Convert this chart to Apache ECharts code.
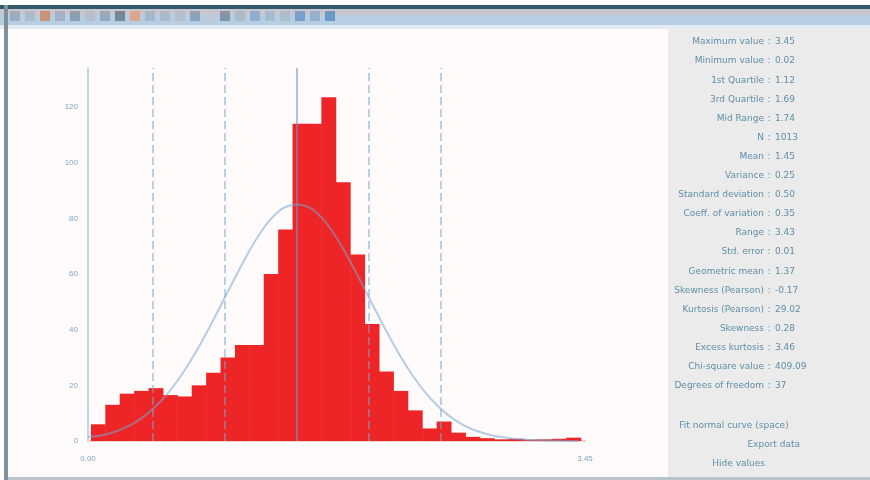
<!DOCTYPE html>
<html>
<head>
<meta charset="utf-8">
<script src="https://cdn.jsdelivr.net/npm/echarts@6/dist/echarts.min.js"></script>
<style>
  html, body { margin: 0; padding: 0; background: #ffffff; }
  #chart { width: 870px; height: 480px; }
</style>
</head>
<body>
<div id="chart"></div>
<script>
// histogram counts, one per bin (bin width 0.1, first bin starts at 0.02)
const binStart = 0.02;
const binWidth = 0.1;
const counts = [6, 13, 17, 18, 19, 16.5, 16, 20, 24.5, 30, 34.5, 34.5, 60, 76, 114, 114, 123.5,
  93, 67, 42, 25, 18, 11, 4.5, 7, 3, 1.5, 1, 0.6, 0.8, 0.5, 0.6, 0.8, 1.2];

// fitted normal curve
const curveX = [0.0, 0.1, 0.2, 0.3, 0.4, 0.5, 0.6, 0.7, 0.8, 0.9, 1.0, 1.1, 1.2, 1.3, 1.4, 1.45, 1.5,
  1.6, 1.7, 1.8, 1.9, 2.0, 2.1, 2.2, 2.3, 2.4, 2.5, 2.6, 2.7, 2.8, 2.9, 3.0, 3.1, 3.2, 3.3, 3.4];
const curveY = [1.5, 2.1, 3.6, 5.9, 9.3, 14, 20.2, 27.8, 36.7, 46.5, 56.6, 66.4, 75, 81.4, 84.6, 85, 84.6,
  81.4, 75, 66.4, 56.6, 46.5, 36.7, 27.8, 20.2, 14, 9.3, 5.9, 3.6, 2.1, 1.2, 0.6, 0.3, 0.2, 0.1, 0];

// mean and +/- sigma markers
const meanValue = 1.45;
const sigmaLines = [0.45, 0.95, 1.95, 2.45];

const xMin = 0;
const xMax = 3.45;
const yMax = 134;

// statistics panel
const statLabels = ['Maximum value', 'Minimum value', '1st Quartile', '3rd Quartile', 'Mid Range',
  'N', 'Mean', 'Variance', 'Standard deviation', 'Coeff. of variation', 'Range', 'Std. error',
  'Geometric mean', 'Skewness (Pearson)', 'Kurtosis (Pearson)', 'Skewness', 'Excess kurtosis',
  'Chi-square value', 'Degrees of freedom'];
const statValues = ['3.45', '0.02', '1.12', '1.69', '1.74', '1013', '1.45', '0.25', '0.50', '0.35',
  '3.43', '0.01', '1.37', '-0.17', '29.02', '0.28', '3.46', '409.09', '37'];
const panelLinks = ['Fit normal curve (space)', 'Export data', 'Hide values'];

const chart = echarts.init(document.getElementById('chart'));

const binData = counts.map((c, i) => [binStart + i * binWidth, binStart + (i + 1) * binWidth, c]);

const textColor = '#5f8ea8';
const graphics = [];

// window chrome
graphics.push({ type: 'rect', shape: { x: 0, y: 5, width: 870, height: 4 }, style: { fill: '#2f5b6b' }, z: 10 });
graphics.push({ type: 'rect', shape: { x: 0, y: 9, width: 870, height: 6 }, style: { fill: '#c9c6d0' }, z: 10 });
graphics.push({ type: 'rect', shape: { x: 0, y: 15, width: 870, height: 10 }, style: { fill: '#b7cde1' }, z: 10 });
graphics.push({ type: 'rect', shape: { x: 0, y: 25, width: 870, height: 4 }, style: { fill: '#e3ebf1' }, z: 10 });
graphics.push({ type: 'rect', shape: { x: 4, y: 5, width: 4, height: 475 }, style: { fill: '#7f8f9b' }, z: 10 });
graphics.push({ type: 'rect', shape: { x: 668, y: 29, width: 202, height: 451 }, style: { fill: '#ebebeb' }, z: 0 });
graphics.push({ type: 'rect', shape: { x: 8, y: 29, width: 660, height: 451 }, style: { fill: '#fefbfa' }, z: 0 });
graphics.push({ type: 'rect', shape: { x: 8, y: 477, width: 862, height: 3 }, style: { fill: '#b9c3cc' }, z: 10 });

// toolbar icons
const iconColors = ['#8fa3b8', '#a9b3c4', '#c9825a', '#9aa8ba', '#7c8fa3', '#b4b8c6', '#8c9db0', '#5f6f80',
  '#e39a72', '#9fb2c6', '#a6b3c2', '#b0bac8', '#7e96ad', '#c2c6d0', '#6d8299', '#a8b5c4', '#7fa6cc',
  '#9db6cc', '#aab8c6', '#5f93c6', '#87a7c8', '#4f88c0'];
iconColors.forEach((c, i) => {
  graphics.push({ type: 'rect', shape: { x: 10 + i * 15, y: 11, width: 10, height: 10 }, style: { fill: c, opacity: 0.75 }, z: 11 });
});

// stats rows
statLabels.forEach((lab, i) => {
  const y = 42 + i * 19.1;
  graphics.push({ type: 'text', x: 764, y: y, style: { text: lab, fill: textColor, font: '9px "DejaVu Sans"', textAlign: 'right', textVerticalAlign: 'middle' }, z: 12 });
  graphics.push({ type: 'text', x: 769, y: y, style: { text: ':', fill: textColor, font: '9px "DejaVu Sans"', textAlign: 'center', textVerticalAlign: 'middle' }, z: 12 });
  graphics.push({ type: 'text', x: 775, y: y, style: { text: statValues[i], fill: textColor, font: '9px "DejaVu Sans"', textAlign: 'left', textVerticalAlign: 'middle' }, z: 12 });
});
const linkX = [734, 800, 765];
const linkY = [426, 445, 464];
panelLinks.forEach((t, i) => {
  graphics.push({ type: 'text', x: linkX[i], y: linkY[i], style: { text: t, fill: textColor, font: '9px "DejaVu Sans"', textAlign: i === 0 ? 'center' : 'right', textVerticalAlign: 'middle' }, z: 12 });
});

const option = {
  animation: false,
  backgroundColor: '#ffffff',
  graphic: graphics,
  grid: { left: 88, right: 285, top: 68, bottom: 39 },
  xAxis: {
    type: 'value',
    min: xMin,
    max: xMax,
    interval: xMax - xMin,
    axisLine: { show: true, lineStyle: { color: '#ecd4cc', width: 2 } },
    axisTick: { show: false },
    splitLine: { show: false },
    axisLabel: {
      color: '#7fa6c6',
      fontSize: 8,
      margin: 14,
      formatter: (v) => v.toFixed(2)
    }
  },
  yAxis: {
    type: 'value',
    min: 0,
    max: yMax,
    interval: 20,
    axisLine: { show: true, lineStyle: { color: '#bcd7ee', width: 2 } },
    axisTick: { show: false },
    splitLine: { show: false },
    axisLabel: { color: '#7fa6c6', fontSize: 8, margin: 10, showMaxLabel: false }
  },
  series: [
    {
      type: 'custom',
      z: 2,
      data: binData,
      renderItem: (params, api) => {
        const p0 = api.coord([api.value(0), api.value(2)]);
        const p1 = api.coord([api.value(1), 0]);
        return {
          type: 'rect',
          shape: { x: p0[0], y: p0[1], width: p1[0] - p0[0] + 0.5, height: p1[1] - p0[1] },
          style: { fill: '#ee2526' }
        };
      }
    },
    {
      type: 'line',
      z: 3,
      smooth: true,
      symbol: 'none',
      data: curveX.map((x, i) => [x, curveY[i]]),
      lineStyle: { color: 'rgba(120,165,210,0.55)', width: 2 },
      markLine: {
        silent: true,
        symbol: 'none',
        label: { show: false },
        data: [
          { xAxis: meanValue, lineStyle: { type: 'solid', color: 'rgba(110,150,195,0.55)', width: 2 } },
          ...sigmaLines.map((v) => ({ xAxis: v, lineStyle: { type: 'dashed', color: 'rgba(120,165,210,0.5)', width: 2 } }))
        ]
      }
    }
  ]
};

chart.setOption(option);
</script>
</body>
</html>
